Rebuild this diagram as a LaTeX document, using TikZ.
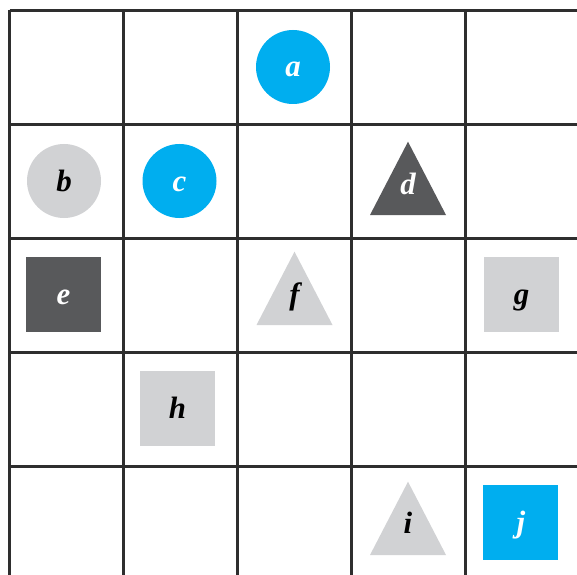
\documentclass[tikz,border=0pt]{standalone}
\usepackage{fontspec}
\setmainfont{Liberation Serif}
\definecolor{cyanb}{HTML}{00AEEF}
\definecolor{lgray}{HTML}{D1D2D4}
\definecolor{dgray}{HTML}{58595B}
\definecolor{gridc}{HTML}{2E2E2E}
\begin{document}
\begin{tikzpicture}[x=1bp,y=-1bp,
  gridline/.style={draw=gridc,line width=2.5bp},
  letter/.style={font=\fontsize{31}{31}\selectfont\bfseries\itshape,inner sep=0pt},
  circ/.style={letter,circle,minimum size=74bp,text height=20bp,text depth=0bp},
  sq/.style={letter,rectangle,minimum size=75bp,text height=20bp,text depth=0bp},
  lab/.style={letter,anchor=base}]
\useasboundingbox (0,0) rectangle (577,575);
\clip (0,0) rectangle (577,575);
\fill[white] (0,0) rectangle (577,575);
\foreach \i in {0,...,5}{
  \draw[gridline] (9.5+114*\i,10.5) -- (9.5+114*\i,600);
  \draw[gridline] (9.5,10.5+114*\i) -- (600,10.5+114*\i);
}
\node[circ,fill=cyanb,text=white] (a) at (293,67) {a};
\node[circ,fill=lgray] (b) at (64,181) {b};
\node[circ,fill=cyanb,text=white] (c) at (179.5,181) {c};
\fill[dgray] (408,141.7) -- (446,215) -- (370,215) -- cycle;
\node[lab,text=white] (d) at (408,194.5) {d};
\node[sq,fill=dgray,text=white] (e) at (63.5,294.5) {e};
\fill[lgray] (294.5,251.7) -- (332.5,325) -- (256.5,325) -- cycle;
\node[lab] (f) at (294.5,304.5) {f};
\node[sq,fill=lgray] (g) at (521.5,294.2) {g};
\node[sq,fill=lgray] (h) at (177.5,408.5) {h};
\fill[lgray] (408,481.7) -- (446,555) -- (370,555) -- cycle;
\node[lab] (i) at (408,533.5) {i};
\node[sq,fill=cyanb,text=white] (j) at (520.8,522.5) {j};
\end{tikzpicture}
\end{document}
